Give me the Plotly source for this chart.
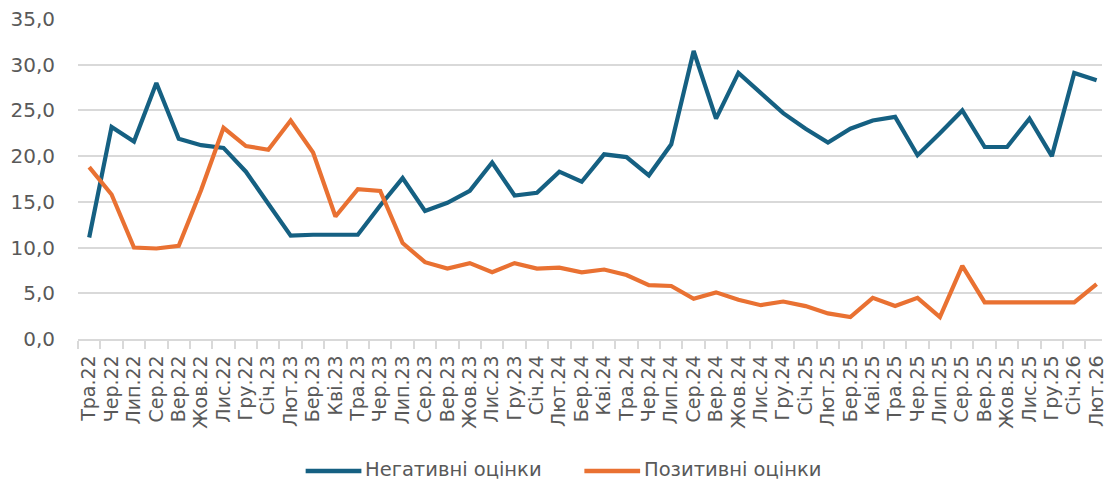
import plotly.graph_objects as go

# Monthly labels, May 2022 – February 2026
months = [
    "Тра.22", "Чер.22", "Лип.22", "Сер.22", "Вер.22", "Жов.22", "Лис.22", "Гру.22",
    "Січ.23", "Лют.23", "Бер.23", "Кві.23", "Тра.23", "Чер.23", "Лип.23", "Сер.23",
    "Вер.23", "Жов.23", "Лис.23", "Гру.23", "Січ.24", "Лют.24", "Бер.24", "Кві.24",
    "Тра.24", "Чер.24", "Лип.24", "Сер.24", "Вер.24", "Жов.24", "Лис.24", "Гру.24",
    "Січ.25", "Лют.25", "Бер.25", "Кві.25", "Тра.25", "Чер.25", "Лип.25", "Сер.25",
    "Вер.25", "Жов.25", "Лис.25", "Гру.25", "Січ.26", "Лют.26",
]

negative = [
    11.1, 23.2, 21.6, 28.0, 21.9, 21.2, 20.9, 18.3,
    14.8, 11.3, 11.4, 11.4, 11.4, 14.6, 17.6, 14.0,
    14.9, 16.2, 19.3, 15.7, 16.0, 18.3, 17.2, 20.2,
    19.9, 17.9, 21.3, 31.5, 24.1, 29.1, 26.9, 24.7,
    23.0, 21.5, 23.0, 23.9, 24.3, 20.1, 22.5, 25.0,
    21.0, 21.0, 24.1, 20.0, 29.1, 28.3,
]

positive = [
    18.8, 15.8, 10.0, 9.9, 10.2, 16.3, 23.1, 21.1,
    20.7, 23.9, 20.4, 13.4, 16.4, 16.2, 10.5, 8.4,
    7.7, 8.3, 7.3, 8.3, 7.7, 7.8, 7.3, 7.6,
    7.0, 5.9, 5.8, 4.4, 5.1, 4.3, 3.7, 4.1,
    3.6, 2.8, 2.4, 4.5, 3.6, 4.5, 2.4, 8.0,
    4.0, 4.0, 4.0, 4.0, 4.0, 6.0,
]

series_names = ["Негативні оцінки", "Позитивні оцінки"]

BLUE = "#156082"
ORANGE = "#E97132"
GRID = "#D9D9D9"
TEXT = "#595959"
FONT = "DejaVu Sans, Liberation Sans, Arial, sans-serif"

fig = go.Figure()
for name, vals, col in zip(series_names, [negative, positive], [BLUE, ORANGE]):
    fig.add_trace(go.Scatter(
        x=months, y=vals, mode="lines", name=name, showlegend=False,
        line=dict(color=col, width=4.2),
    ))

W, H = 1107, 482
left, top, bottom = 78.3, 19, 143
plot_w = W - left
plot_h = H - top - bottom
step = 22.49
x_hi = -0.5 + plot_w / step


def px_x(px):
    return (px - left) / plot_w


def px_y(py):
    return (H - bottom - py) / plot_h


# Legend drawn below the plot: a short line sample followed by the series name
legend_y = 471
legend_items = [(307, BLUE, series_names[0]), (587, ORANGE, series_names[1])]
for x0, col, name in legend_items:
    fig.add_shape(
        type="line", xref="paper", yref="paper",
        x0=px_x(x0), x1=px_x(x0 + 56), y0=px_y(legend_y), y1=px_y(legend_y),
        line=dict(color=col, width=4.5),
    )
    fig.add_annotation(
        xref="paper", yref="paper", x=px_x(x0 + 59), y=px_y(legend_y - 1.5),
        xanchor="left", yanchor="middle", showarrow=False, borderpad=0,
        text=name, font=dict(size=19.5, color=TEXT, family=FONT),
    )

fig.update_layout(
    width=W, height=H,
    margin=dict(l=left, r=0, t=top, b=bottom, pad=0),
    paper_bgcolor="white", plot_bgcolor="white",
    separators=", ",
    font=dict(family=FONT, color=TEXT, size=20),
    showlegend=False,
    xaxis=dict(
        type="category", range=[-0.5, x_hi],
        tickmode="array", tickvals=months, ticktext=months,
        tickson="boundaries", ticks="outside", ticklen=8,
        tickcolor=GRID, tickwidth=1.5,
        showline=True, linecolor=GRID, linewidth=1.5,
        showgrid=False, tickangle=-90,
        ticklabelstandoff=7,
        tickfont=dict(size=19, color=TEXT, family=FONT),
        fixedrange=True,
    ),
    yaxis=dict(
        range=[0, 35], dtick=5, tick0=0, tickformat=".1f",
        showgrid=True, gridcolor=GRID, gridwidth=1.5,
        zeroline=False, showline=False, ticks="",
        ticklabelstandoff=22,
        tickfont=dict(size=20, color=TEXT, family=FONT),
        fixedrange=True,
    ),
)

fig.write_html("out.html")
